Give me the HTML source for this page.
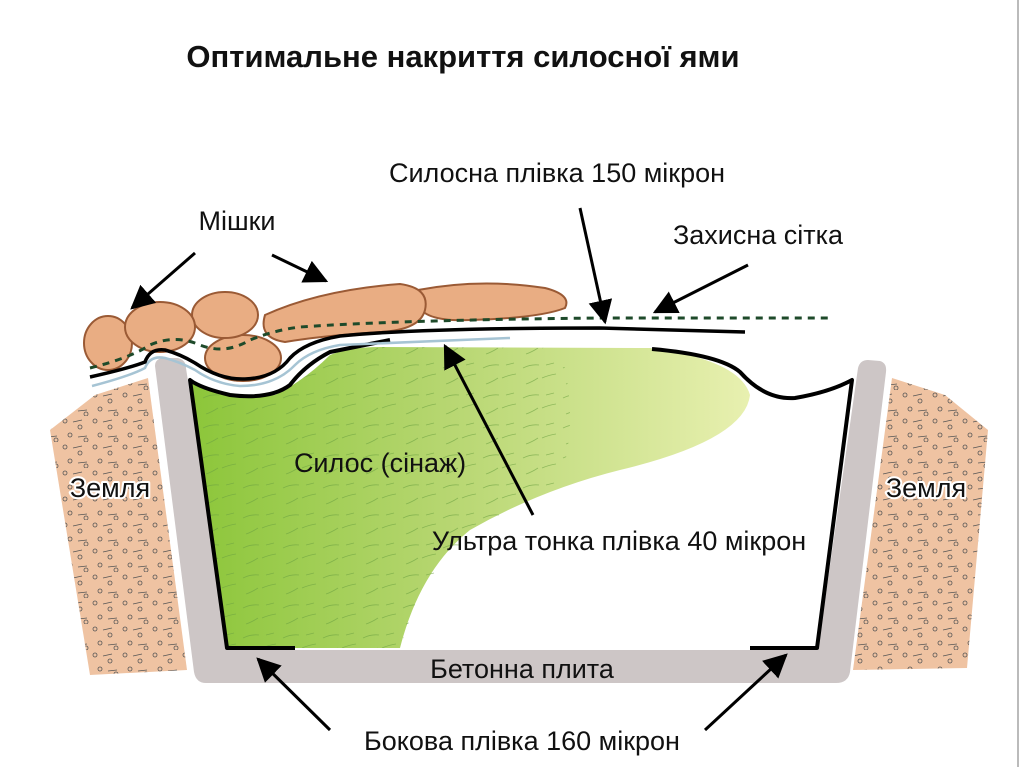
<!DOCTYPE html>
<html><head><meta charset="utf-8"><style>
html,body{margin:0;padding:0;background:#fff}
svg{display:block}
text{font-family:"Liberation Sans",sans-serif;fill:#111}
</style></head><body>
<svg width="1024" height="767" viewBox="0 0 1024 767" xmlns="http://www.w3.org/2000/svg">
<defs>
<linearGradient id="g" x1="0" y1="0" x2="1" y2="0">
<stop offset="0" stop-color="#8cc63a"/><stop offset="0.45" stop-color="#b6d670"/><stop offset="1" stop-color="#e8f0b0"/>
</linearGradient>
<marker id="ah" viewBox="0 0 10 10" refX="9" refY="5" markerWidth="8" markerHeight="8" orient="auto">
<path d="M0,0 L10,5 L0,10 Z" fill="#000"/></marker>
<pattern id="dots" width="30" height="26" patternUnits="userSpaceOnUse">
<circle cx="5" cy="5" r="2" fill="none" stroke="#555" stroke-width="0.8"/>
<circle cx="20" cy="11" r="2" fill="none" stroke="#555" stroke-width="0.8"/>
<circle cx="10" cy="19" r="2" fill="none" stroke="#555" stroke-width="0.8"/>
<line x1="13" y1="6" x2="22" y2="4" stroke="#555" stroke-width="0.8"/>
<line x1="18" y1="21" x2="27" y2="20" stroke="#555" stroke-width="0.8"/>
<circle cx="26" cy="24" r="2" fill="none" stroke="#555" stroke-width="0.8"/>
</pattern>
<pattern id="grass" width="40" height="30" patternUnits="userSpaceOnUse">
<path d="M3,8 q8,-4 16,-3 M22,18 q7,-3 14,-4 M6,24 q6,-2 12,-6 M26,5 l8,-2" stroke="#6aa040" stroke-width="0.8" fill="none"/>
</pattern>
</defs>
<rect x="0" y="0" width="1024" height="767" fill="#fff"/>
<line x1="1018" y1="0" x2="1018" y2="767" stroke="#777" stroke-width="1"/>
<text x="463" y="67" font-size="31" font-weight="bold" text-anchor="middle">Оптимальне накриття силосної ями</text>

<!-- earth -->
<path d="M50,430 L95,395 L148,378 L187,670 L90,675 Z" fill="#efc3a2"/>
<path d="M50,430 L95,395 L148,378 L187,670 L90,675 Z" fill="url(#dots)"/>
<path d="M892,378 L945,395 L988,430 L967,668 L853,670 Z" fill="#efc3a2"/>
<path d="M892,378 L945,395 L988,430 L967,668 L853,670 Z" fill="url(#dots)"/>

<!-- concrete -->
<path d="M155,366 Q155,358 165,358 L178,358 Q186,360 186,368 L228,650 L818,650 L858,368 Q860,360 868,360 L880,361 Q887,363 886,372 L850,672 Q848,683 836,683 L206,683 Q196,683 194,672 Z" fill="#cdc6c6"/>

<!-- silage -->
<path d="M192,382 Q230,400 275,395 Q305,380 330,355 Q350,347 380,347 L650,348 Q740,360 750,395 Q745,440 620,470 Q540,490 470,530 Q420,570 400,648 L228,648 Z" fill="url(#g)"/>
<path d="M192,382 Q230,400 275,395 Q305,380 330,355 Q350,347 380,347 L560,348 Q580,420 560,480 Q470,530 420,590 L400,648 L228,648 Z" fill="url(#grass)" opacity="0.6"/>

<!-- liner -->
<path d="M390,340 L330,352 Q305,365 290,385 Q270,400 230,395 Q200,388 190,380 L227,648 L295,648" fill="none" stroke="#000" stroke-width="4" stroke-linejoin="round"/>
<path d="M652,349 Q720,355 740,372 Q765,400 795,398 Q830,392 852,380 L817,648 L750,648" fill="none" stroke="#000" stroke-width="4" stroke-linejoin="round"/>

<!-- bags -->
<g fill="#e9ad83" stroke="#9a5a35" stroke-width="2">
<ellipse cx="243" cy="358" rx="38" ry="23"/>
<path d="M418,290 Q480,278 545,288 Q572,295 565,308 Q540,318 470,320 Q425,322 418,305 Z"/>
<path d="M265,315 Q320,290 400,284 Q430,288 425,310 Q420,330 380,332 Q320,336 285,342 Q258,338 265,315 Z"/>
<ellipse cx="225" cy="315" rx="33" ry="23"/>
<ellipse cx="108" cy="343" rx="24" ry="27"/>
<ellipse cx="160" cy="327" rx="35" ry="25"/>
</g>

<!-- top films -->
<path d="M92,386 Q130,376 145,368 Q150,355 165,358 Q180,362 195,370 Q215,384 240,386 Q275,386 295,365 Q310,350 340,345 L510,338" fill="none" stroke="#a6c4d4" stroke-width="2.5"/>
<path d="M90,377 Q130,368 145,362 Q150,348 165,350 Q180,354 195,363 Q220,380 245,379 Q275,378 290,358 Q305,342 340,336 Q420,328 600,328 L745,332" fill="none" stroke="#000" stroke-width="3.5"/>
<path d="M90,368 Q130,358 150,345 Q175,334 200,345 Q225,355 250,340 Q275,330 300,327 Q400,320 600,318 L832,318" fill="none" stroke="#1e4a2a" stroke-width="3" stroke-dasharray="7,6"/>

<!-- arrows -->
<g stroke="#000" stroke-width="3" marker-end="url(#ah)">
<line x1="195" y1="253" x2="132" y2="308"/>
<line x1="272" y1="255" x2="326" y2="281"/>
<line x1="580" y1="208" x2="605" y2="322"/>
<line x1="748" y1="265" x2="655" y2="312"/>
<line x1="533" y1="515" x2="445" y2="346"/>
<line x1="330" y1="730" x2="258" y2="659"/>
<line x1="705" y1="730" x2="786" y2="655"/>
</g>

<!-- labels -->
<g font-size="27">
<text x="237" y="230" text-anchor="middle">Мішки</text>
<text x="557" y="182" text-anchor="middle">Силосна плівка 150 мікрон</text>
<text x="758" y="244" text-anchor="middle">Захисна сітка</text>
<text x="380" y="472" text-anchor="middle">Силос (сінаж)</text>
<text x="619" y="550" text-anchor="middle">Ультра тонка плівка 40 мікрон</text>
<text x="522" y="678" text-anchor="middle">Бетонна плита</text>
<text x="522" y="750" text-anchor="middle">Бокова плівка 160 мікрон</text>
<g stroke="#fff" stroke-width="4" paint-order="stroke" stroke-linejoin="round">
<text x="110" y="497" text-anchor="middle">Земля</text>
<text x="926" y="497" text-anchor="middle">Земля</text>
</g>
</g>
</svg>
</body></html>
